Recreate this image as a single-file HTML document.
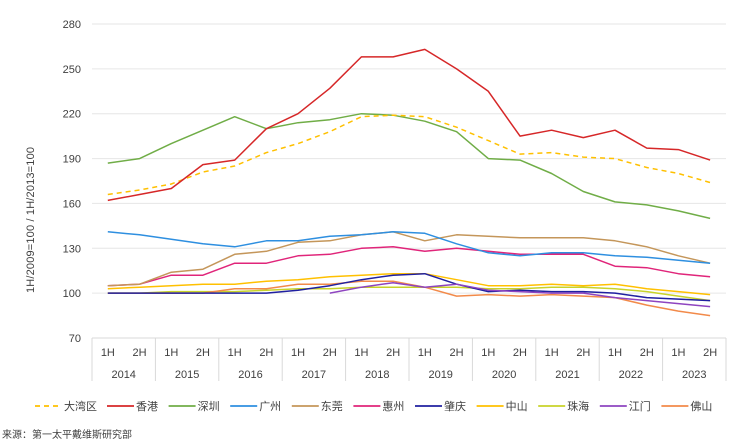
<!DOCTYPE html>
<html><head><meta charset="utf-8"><style>
html,body{margin:0;padding:0;background:#fff;}
svg{display:block;font-family:"Liberation Sans","Noto Sans CJK SC",sans-serif;}
</style></head><body>
<svg id="c" width="740" height="445" viewBox="0 0 740 445" xmlns="http://www.w3.org/2000/svg"></svg>
<script>
const s=document.getElementById('c');
const Y=v=>338-(v-70)*314/210;
const X=i=>92+31.7*(i+0.5);
let h='';
for(let v=100;v<=280;v+=30){h+=`<line x1="92" x2="726" y1="${Y(v)}" y2="${Y(v)}" stroke="#e6e6e6" stroke-width="1"/>`;}
h+=`<line x1="92" x2="726" y1="338" y2="338" stroke="#d9d9d9"/>`;
for(let v=70;v<=280;v+=30){h+=`<text x="81" y="${Y(v)+4}" font-size="11" fill="#404040" text-anchor="end">${v}</text>`;}
for(let k=0;k<=10;k++){const x=92+63.4*k;h+=`<line x1="${x}" x2="${x}" y1="338" y2="381" stroke="#d9d9d9"/>`;}
for(let i=0;i<20;i++){h+=`<text x="${X(i)}" y="356" font-size="11" fill="#404040" text-anchor="middle">${i%2?'2H':'1H'}</text>`;}
for(let k=0;k<10;k++){h+=`<text x="${92+63.4*k+31.7}" y="378" font-size="11" fill="#404040" text-anchor="middle">${2014+k}</text>`;}
h+=`<text transform="translate(34,220) rotate(-90)" font-size="11" fill="#404040" text-anchor="middle" textLength="146">1H/2009=100 / 1H/2013=100</text>`;
const S=[
['大湾区','#ffc000',[166,169,173,181,185,194,200,208,218,219,218,211,202,193,194,191,190,184,180,174],1],
['香港','#d62728',[162,166,170,186,189,210,220,237,258,258,263,250,235,205,209,204,209,197,196,189]],
['深圳','#70ad47',[187,190,200,209,218,210,214,216,220,219,215,208,190,189,180,168,161,159,155,150]],
['广州','#2e8fe0',[141,139,136,133,131,135,135,138,139,141,140,133,127,125,127,127,125,124,122,120]],
['东莞','#c4965a',[105,106,114,116,126,128,134,135,139,141,135,139,138,137,137,137,135,131,125,120]],
['惠州','#e0257a',[105,106,112,112,120,120,125,126,130,131,128,130,128,126,126,126,118,117,113,111]],
['肇庆','#2020a0',[100,100,100,100,100,100,102,105,109,112,113,106,101,102,101,101,100,97,96,95]],
['中山','#ffc000',[103,104,105,106,106,108,109,111,112,113,113,109,105,105,106,105,106,103,101,99]],
['珠海','#c8d32a',[100,100,101,101,101,102,103,103,104,104,104,104,103,103,104,104,103,101,98,95]],
['江门','#8e44c0',[null,null,null,null,null,null,null,100,104,107,104,106,102,101,100,100,97,95,93,91]],
['佛山','#f28a4a',[100,100,100,100,103,103,106,106,108,108,104,98,99,98,99,98,97,92,88,85]]
];
const order=[8,10,7,6,9,5,4,3,2,0,1];
for(const idx of order){const [n,c,d,dash]=S[idx];
 const p=d.map((v,i)=>v==null?null:`${X(i).toFixed(1)},${Y(v).toFixed(1)}`).filter(x=>x).join(' ');
 h+=`<polyline points="${p}" fill="none" stroke="${c}" stroke-width="1.5" ${dash?'stroke-dasharray="5,4"':''} stroke-linejoin="round"/>`;}
S.forEach(([n,c,d,dash],i)=>{const x=i==0?35:107+61.6*(i-1);
 h+=`<line x1="${x}" x2="${x+27}" y1="406" y2="406" stroke="${c}" stroke-width="1.8" ${dash?'stroke-dasharray="5,4"':''}/>`;
 h+=`<text x="${x+29}" y="410" font-size="11" fill="#404040">${n}</text>`;});
h+=`<text x="2" y="438" font-size="10" fill="#404040">来源：第一太平戴维斯研究部</text>`;
s.innerHTML=h;
</script>
</body></html>
